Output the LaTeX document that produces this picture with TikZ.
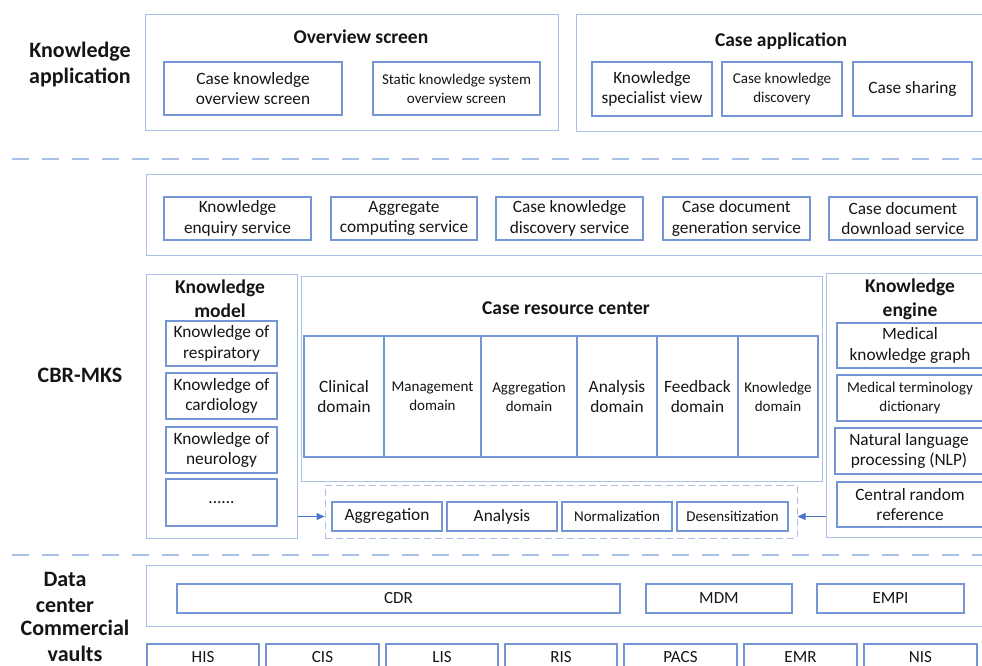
\documentclass[tikz,border=0pt]{standalone}
\usepackage{fontspec}
\setmainfont{Carlito}
\usetikzlibrary{arrows.meta}
\definecolor{outerc}{HTML}{A9C0E8}
\definecolor{innerc}{HTML}{7596D6}
\definecolor{arrc}{HTML}{4A74C9}
\definecolor{txt}{HTML}{151515}
\newcommand{\fsz}[2]{\fontsize{#1}{#2}\selectfont}
\newcommand{\bx}[7]{\node[#6, minimum width={(#4)-(#2)}, minimum height={(#5)-(#3)}] (#1) at ({((#2)+(#4))/2},{((#3)+(#5))/2}) {#7};}
\begin{document}
\begin{tikzpicture}[x=1pt, y=-1pt,
  every node/.style={text=txt},
  outer/.style={draw=outerc, line width=1pt, inner sep=0pt},
  inner/.style={draw=innerc, line width=1.3pt, align=center, inner sep=1pt, font=\fsz{17.3}{20.5}},
  small/.style={font=\fsz{15}{19}},
  mid/.style={font=\fsz{17}{20}},
  side/.style={font=\bfseries\fsz{22}{26}, align=center},
  ttl/.style={font=\bfseries\fsz{19.5}{24}, align=center},
  sep/.style={draw=outerc, line width=1.3pt, dash pattern=on 17pt off 13pt},
  dbox/.style={draw=outerc, line width=1pt, dash pattern=on 7pt off 4pt, inner sep=0pt},
  arr/.style={draw=arrc, line width=1pt, -{Triangle[length=8pt,width=7pt]}}]
\useasboundingbox (0,0) rectangle (982,666);
\clip (0,0) rectangle (982,666);
% side labels
\node[side] (lka) at (80,65) {Knowledge\\application};
\node[side] (lcbr) at (80,375) {CBR-MKS};
\node[side] (ldc) at (65,592) {Data\\center};
\node[side] (lcv) at (75,641) {Commercial\\vaults};
% separators
\coordinate (s1a) at (12,159); \coordinate (s1b) at (990,159);
\coordinate (s2a) at (12,555); \coordinate (s2b) at (990,555);
\draw[sep] (s1a) -- (s1b);
\draw[sep] (s2a) -- (s2b);
% knowledge application
\bx{ov}{145}{15}{558}{131}{outer}{}
\node[ttl] (ovt) at (361,37) {Overview screen};
\bx{ckos}{164}{62}{342}{115}{inner}{Case knowledge\\overview screen}
\bx{skos}{373}{62}{540}{115}{inner,small}{Static knowledge system\\overview screen}
\bx{ca}{576}{15}{995}{132}{outer}{}
\node[ttl] (cat) at (781,41) {Case application};
\bx{ksv}{592}{62}{712}{116}{inner}{Knowledge\\specialist view}
\bx{ckd}{722}{62}{842}{116}{inner,small}{Case knowledge\\discovery}
\bx{cs}{853}{62}{972}{116}{inner}{Case sharing}
% services
\bx{svc}{146}{174}{995}{255}{outer}{}
\bx{kes}{164}{197}{311}{240}{inner}{Knowledge\\enquiry service}
\bx{acs}{331}{197}{477}{240}{inner}{Aggregate\\computing service}
\bx{ckds}{496}{197}{643}{240}{inner}{Case knowledge\\discovery service}
\bx{cdgs}{663}{197}{810}{240}{inner}{Case document\\generation service}
\bx{cdds}{829}{197}{977}{240}{inner}{Case document\\download service}
% knowledge model
\bx{km}{146}{274}{297}{538}{outer}{}
\node[ttl] (kmt) at (220,299) {Knowledge\\model};
\bx{kr}{166}{321}{277}{366}{inner}{Knowledge of\\respiratory}
\bx{kc}{166}{373}{277}{419}{inner}{Knowledge of\\cardiology}
\bx{kn}{166}{427}{277}{473}{inner}{Knowledge of\\neurology}
\bx{kd}{166}{479}{277}{526}{inner}{......}
% case resource center
\bx{crc}{301}{276}{822}{481}{outer}{}
\node[ttl] (crct) at (566,308) {Case resource center};
\bx{dcl}{304}{336}{384}{457}{inner}{Clinical\\domain}
\bx{dma}{384}{336}{481}{457}{inner,small}{Management\\domain}
\bx{dag}{481}{336}{577}{457}{inner,small}{Aggregation\\domain}
\bx{dan}{577}{336}{657}{457}{inner}{Analysis\\domain}
\bx{dfe}{657}{336}{738}{457}{inner}{Feedback\\domain}
\bx{dkn}{738}{336}{818}{457}{inner,small}{Knowledge\\domain}
% processing
\bx{dash}{325}{485}{797}{538}{dbox}{}
\bx{agg}{332}{502}{442}{531}{inner}{Aggregation}
\bx{ana}{447}{502}{557}{531}{inner}{Analysis}
\bx{nor}{562}{502}{672}{531}{inner,small}{Normalization}
\bx{des}{677}{502}{788}{531}{inner,small}{Desensitization}
% knowledge engine
\bx{ke}{826}{273}{995}{537}{outer}{}
\node[ttl] (ket) at (910,299) {Knowledge\\engine};
\bx{mkg}{837}{323}{983}{368}{inner}{Medical\\knowledge graph}
\bx{mtd}{837}{375}{983}{421}{inner,small}{Medical terminology\\dictionary}
\bx{nlp}{835}{428}{983}{474}{inner}{Natural language\\processing (NLP)}
\bx{crr}{837}{482}{983}{527}{inner}{Central random\\reference}
% arrows
\draw[arr] (km.east |- agg.center) -- (dash.west |- agg.center);
\draw[arr] (ke.west |- des.center) -- (dash.east |- des.center);
% data center
\bx{dc}{146}{565}{995}{626}{outer}{}
\bx{cdr}{177}{584}{620}{613}{inner,mid}{CDR}
\bx{mdm}{646}{584}{792}{613}{inner,mid}{MDM}
\bx{empi}{817}{584}{964}{613}{inner,mid}{EMPI}
% vaults
\bx{his}{147}{644}{259}{670}{inner,mid}{HIS}
\bx{cis}{266}{644}{379}{670}{inner,mid}{CIS}
\bx{lis}{386}{644}{498}{670}{inner,mid}{LIS}
\bx{ris}{505}{644}{617}{670}{inner,mid}{RIS}
\bx{pacs}{624}{644}{737}{670}{inner,mid}{PACS}
\bx{emr}{744}{644}{857}{670}{inner,mid}{EMR}
\bx{nis}{864}{644}{977}{670}{inner,mid}{NIS}
\end{tikzpicture}
\end{document}
